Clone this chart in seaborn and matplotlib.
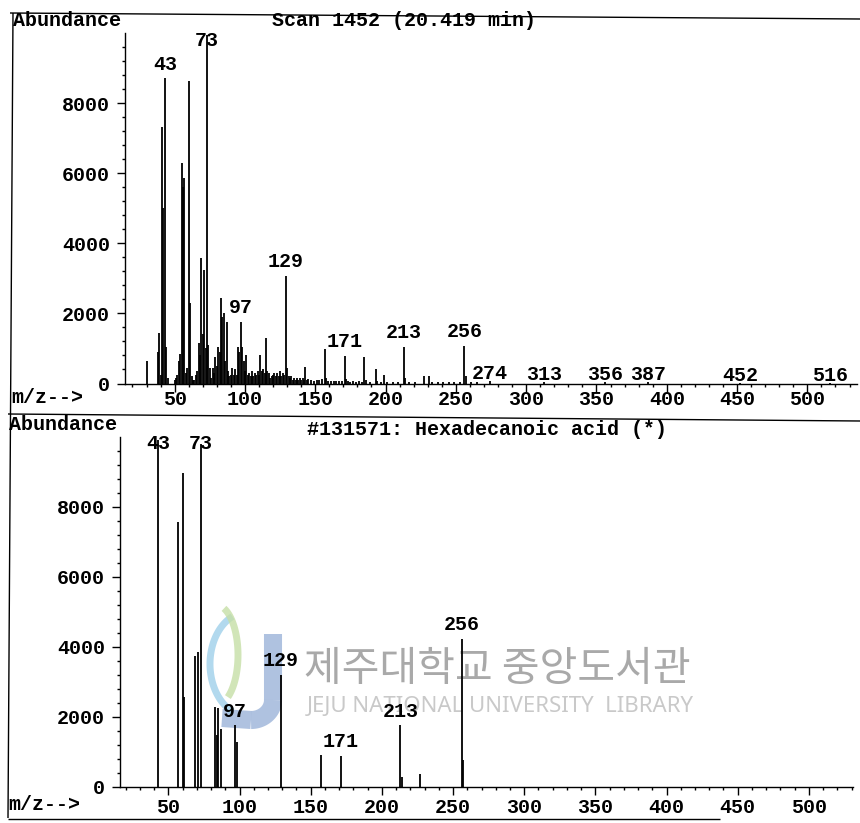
import numpy as np
import pandas as pd
import matplotlib
matplotlib.use("Agg")
import matplotlib.pyplot as plt
import seaborn as sns
from matplotlib.ticker import FixedLocator
from matplotlib.lines import Line2D

# ---- measured scan (upper spectrum) ----
scan_mz = [30, 38, 39, 40, 41, 42, 43, 44, 45,
           50, 51, 52, 53, 54, 55, 56, 57, 58, 59, 60, 61, 62,
           63, 64, 65, 66, 67, 68, 69, 70, 71, 72, 73, 74, 75, 76, 77, 78, 79, 80,
           81, 82, 83, 84, 85, 86, 87, 88, 89, 90, 91, 92, 93, 94, 95, 96, 97, 98,
           99, 100, 101, 102, 103, 104, 105, 106, 107, 108, 109, 110, 111, 112, 113,
           114, 115, 116, 117, 118, 119, 120, 121, 122, 123, 124, 125, 126, 127, 128,
           129, 130, 131, 132, 133, 134, 135, 136, 137, 138, 139, 140, 141, 142, 143,
           144, 145, 147, 149, 151, 153, 155, 157, 158, 159, 161, 163, 165, 167, 169,
           171, 172, 173, 175, 177, 179, 181, 183, 185, 186, 189, 193, 194, 197, 199,
           201, 205, 209, 213, 214, 217, 221, 227, 231, 233, 237, 241, 245, 249, 253,
           256, 257, 261, 265, 274, 313, 356, 387, 452, 516]
scan_abundance = [650, 900, 1430, 250, 7320, 5000, 8720, 1050, 150,
                  100, 150, 250, 650, 850, 6290, 5600, 5860, 300, 450, 8650, 2300, 200,
                  100, 100, 250, 350, 1150, 800, 3580, 1400, 3240, 1000, 9950, 1100, 450, 150, 450, 300, 750, 500,
                  1050, 900, 2430, 1900, 2000, 650, 1770, 350, 200, 250, 440, 250, 400, 250, 1050, 900, 1770, 1050,
                  650, 350, 820, 250, 300, 200, 350, 200, 300, 250, 350, 250, 820, 350, 400,
                  300, 1290, 350, 300, 150, 200, 250, 300, 200, 300, 200, 350, 200, 300, 250,
                  3070, 450, 200, 150, 200, 100, 150, 100, 150, 100, 150, 100, 150, 100, 480,
                  100, 120, 100, 80, 100, 90, 120, 980, 150, 80, 60, 80, 60, 80, 70,
                  790, 120, 60, 50, 60, 50, 60, 50, 750, 100, 40, 410, 60, 40, 240,
                  40, 40, 40, 1050, 150, 40, 30, 210, 220, 30, 30, 50, 30, 30, 30,
                  1080, 200, 30, 30, 60, 30, 30, 30, 20, 20]
scan_labels = [43, 73, 97, 129, 171, 213, 256]
scan_minor_labels = [274, 313, 356, 387, 452, 516]

# ---- library reference (lower spectrum) ----
lib_mz = [43, 57, 60, 61, 69, 71, 73, 83, 84, 85, 87, 97, 98,
          129, 157, 171, 213, 214, 227, 256, 257]
lib_abundance = [9900, 7580, 8970, 2580, 3750, 3850, 9800, 2300, 1500, 2250, 1650, 1770, 1300,
                 3200, 910, 890, 1770, 290, 370, 4230, 770]
lib_labels = [43, 73, 97, 129, 171, 213, 256]

scan_title = "Scan 1452 (20.419 min)"
lib_title = "#131571: Hexadecanoic acid (*)"
y_label = "Abundance"
x_label = "m/z-->"

W, H = 860, 823
FS = 14.4
INK = "black"

sns.set_theme(style="ticks")
plt.rcParams["font.family"] = ["Liberation Mono", "DejaVu Sans Mono"]
plt.rcParams["font.weight"] = "bold"
plt.rcParams["lines.solid_capstyle"] = "butt"

fig = plt.figure(figsize=(W / 100, H / 100), dpi=100, facecolor="white")

# full-page overlay in pixel units (y grows downward) for frame, captions, watermark
page = fig.add_axes([0, 0, 1, 1], zorder=0)
page.set_xlim(0, W)
page.set_ylim(H, 0)
page.axis("off")


def rect(left, top, right, bottom):
    return [left / W, 1 - bottom / H, (right - left) / W, (bottom - top) / H]


def stem_frame(mz, ab):
    mz = np.asarray(mz, dtype=float)
    ab = np.asarray(ab, dtype=float)
    return pd.DataFrame({
        "peak": np.repeat(np.arange(len(mz)), 2),
        "mz": np.repeat(mz, 2),
        "abundance": np.column_stack([np.zeros_like(ab), ab]).ravel(),
    })


def spectrum(box, xlim, mz, ab, labels, tick_pad):
    ax = fig.add_axes(rect(*box), zorder=2)
    ax.set_facecolor("none")
    sns.lineplot(data=stem_frame(mz, ab), x="mz", y="abundance", units="peak",
                 estimator=None, sort=False, color=INK, lw=1.3, ax=ax)
    ax.set_xlim(*xlim)
    ax.set_ylim(0, 10000)
    ax.set_xlabel("")
    ax.set_ylabel("")
    for side in ("top", "right"):
        ax.spines[side].set_visible(False)
    for side in ("left", "bottom"):
        ax.spines[side].set_color(INK)
        ax.spines[side].set_linewidth(1.0)
    ax.xaxis.set_major_locator(FixedLocator(list(range(50, 501, 50))))
    ax.xaxis.set_minor_locator(FixedLocator([m for m in range(20, int(xlim[1]), 10) if m % 50]))
    ax.yaxis.set_major_locator(FixedLocator([0, 2000, 4000, 6000, 8000]))
    ax.yaxis.set_minor_locator(FixedLocator([v for v in range(400, 10001, 400) if v % 2000]))
    ax.tick_params(axis="x", which="major", direction="out", length=5.5, width=1.0,
                   color=INK, labelsize=FS, labelcolor=INK, pad=tick_pad)
    ax.tick_params(axis="x", which="minor", direction="out", length=2.5, width=1.0, color=INK)
    ax.tick_params(axis="y", which="major", direction="out", length=5.8, width=1.0,
                   color=INK, labelsize=FS, labelcolor=INK, pad=5)
    ax.tick_params(axis="y", which="minor", direction="out", length=2.5, width=1.0, color=INK)
    for t in ax.get_xticklabels() + ax.get_yticklabels():
        t.set_fontweight("bold")
    lookup = dict(zip(mz, ab))
    for m in labels:
        ax.text(m, min(lookup[m] + 400, 9800), str(m), ha="center", va="center",
                fontsize=FS, fontweight="bold", color=INK, zorder=3)
    return ax, lookup


ax_top, top_lookup = spectrum((125, 33.3, 857, 383.5), (14.7, 535.3),
                              scan_mz, scan_abundance, scan_labels, tick_pad=-1.0)
for m in scan_minor_labels:
    ax_top.text(m, top_lookup[m] + 220, str(m), ha="center", va="center",
                fontsize=FS, fontweight="bold", color=INK, zorder=3)

ax_bot, _ = spectrum((120, 437, 853, 787), (16, 531),
                     lib_mz, lib_abundance, lib_labels, tick_pad=2.5)

# ---- page frame ----
for (x0, y0, x1, y1) in [(10, 13, 860, 19), (13, 13, 8, 818),
                         (8, 414, 860, 421), (8, 819, 720, 819)]:
    page.add_line(Line2D([x0, x1], [y0, y1], color=INK, lw=1.0))

# ---- captions ----
txt = dict(fontsize=FS, fontweight="bold", color=INK, va="center")
page.text(13, 20, y_label, ha="left", **txt)
page.text(404, 20, scan_title, ha="center", **txt)
page.text(11, 397, x_label, ha="left", **txt)
page.text(9, 424, y_label, ha="left", **txt)
page.text(487, 429, lib_title, ha="center", **txt)
page.text(8, 805, x_label, ha="left", **txt)

# ---- library watermark ----
BLUE = "#a7bcdd"
page.plot([273, 273], [634, 700], color=BLUE, lw=13, alpha=0.9, zorder=1)
ang = np.linspace(0, np.pi / 2, 40)
page.plot(251 + 22 * np.cos(ang), 700 + 20 * np.sin(ang), color=BLUE, lw=13, alpha=0.9, zorder=1)
page.plot([251, 222], [720, 718], color=BLUE, lw=13, alpha=0.9, zorder=1)
a1 = np.linspace(-1.15, 1.15, 60)
page.plot(248 - 38 * np.cos(a1), 664 + 52 * np.sin(a1), color="#9fd0ea", lw=5, alpha=0.8, zorder=1)
a2 = np.linspace(-1.2, 1.0, 60)
page.plot(216 + 22 * np.cos(a2), 655 + 50 * np.sin(a2), color="#c6dfa6", lw=5, alpha=0.8, zorder=1)

page.text(497, 669, "제주대학교 중앙도서관", ha="center", va="center", fontsize=29.5,
          family=["Noto Sans CJK KR", "DejaVu Sans"], fontweight="normal",
          color="#a9a9a9", zorder=1)
page.text(500, 706, "JEJU NATIONAL UNIVERSITY  LIBRARY", ha="center", va="center",
          fontsize=16, family=["Noto Sans", "DejaVu Sans"], fontweight="normal",
          color="#c9c9c9", zorder=1)

fig.savefig("out.png", dpi=100, facecolor="white")
